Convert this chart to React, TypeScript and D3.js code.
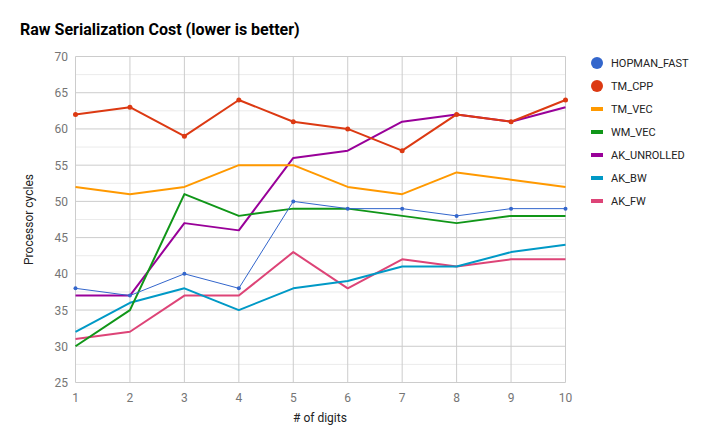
import React from "react";
import * as d3 from "d3";

const digits = [1, 2, 3, 4, 5, 6, 7, 8, 9, 10];
const yTicks = [25, 30, 35, 40, 45, 50, 55, 60, 65, 70];
const seriesNames = ["HOPMAN_FAST", "TM_CPP", "TM_VEC", "WM_VEC", "AK_UNROLLED", "AK_BW", "AK_FW"];
const colors = ["#3366cc", "#dc3912", "#ff9900", "#109618", "#990099", "#0099c6", "#dd4477"];
const hopmanFast = [38, 37, 40, 38, 50, 49, 49, 48, 49, 49];
const tmCpp = [62, 63, 59, 64, 61, 60, 57, 62, 61, 64];
const tmVec = [52, 51, 52, 55, 55, 52, 51, 54, 53, 52];
const wmVec = [30, 35, 51, 48, 49, 49, 48, 47, 48, 48];
const akUnrolled = [37, 37, 47, 46, 56, 57, 61, 62, 61, 63];
const akBw = [32, 36, 38, 35, 38, 39, 41, 41, 43, 44];
const akFw = [31, 32, 37, 37, 43, 38, 42, 41, 42, 42];
const seriesValues = [hopmanFast, tmCpp, tmVec, wmVec, akUnrolled, akBw, akFw];
const withPoints = [true, true, false, false, false, false, false];
const lineWidths = [1, 2, 2, 2, 2, 2, 2];

const W = 709, H = 438;
const FONT = "Roboto, Arial, sans-serif";

export default function App() {
  const x = d3.scaleLinear().domain([1, 10]).range([75.5, 565.5]);
  const y = d3.scaleLinear().domain([25, 70]).range([382.5, 56.5]);
  const minor = d3.range(27.5, 70, 5);
  const line = d3.line<number>().x((_, i) => x(digits[i])).y((d) => y(d));
  const order = [6, 5, 4, 3, 2, 1, 0];
  return (
    <svg width={W} height={H} style={{ position: "absolute", left: 0, top: 0, fontFamily: FONT }}>
      <rect width={W} height={H} fill="#fff" />
      <text x={20} y={35} fontSize={16} fontWeight="bold" fill="#000">Raw Serialization Cost (lower is better)</text>
      {minor.map((v) => (
        <line key={"m" + v} x1={x(1)} x2={x(10)} y1={y(v)} y2={y(v)} stroke="#ebebeb" strokeWidth={1} />
      ))}
      {yTicks.map((v) => (
        <line key={"g" + v} x1={x(1)} x2={x(10)} y1={y(v)} y2={y(v)} stroke="#cccccc" strokeWidth={1} />
      ))}
      {digits.map((d) => (
        <line key={"v" + d} x1={x(d)} x2={x(d)} y1={y(70)} y2={y(25)} stroke="#cccccc" strokeWidth={1} />
      ))}
      {yTicks.map((v) => (
        <text key={"yt" + v} x={68} y={y(v) + 4.5} fontSize={12} fill="#757575" textAnchor="end">{v}</text>
      ))}
      {digits.map((d) => (
        <text key={"xt" + d} x={x(d)} y={402} fontSize={12} fill="#757575" textAnchor="middle">{d}</text>
      ))}
      <text x={320} y={422} fontSize={12} fill="#222" textAnchor="middle"># of digits</text>
      <text transform={`translate(33,${y(47.5)}) rotate(-90)`} fontSize={12} fill="#222" textAnchor="middle">Processor cycles</text>
      {order.map((si) => (
        <g key={"s" + si}>
          <path d={line(seriesValues[si]) || ""} fill="none" stroke={colors[si]} strokeWidth={lineWidths[si]} strokeLinejoin="round" />
          {withPoints[si] && seriesValues[si].map((v, i) => (
            <circle key={i} cx={x(digits[i])} cy={y(v)} r={si === 0 ? 2 : 2.5} fill={colors[si]} />
          ))}
        </g>
      ))}
      {seriesNames.map((n, i) => {
        const ly = 63 + i * 23;
        return (
          <g key={"l" + n}>
            {withPoints[i] ? (
              <circle cx={597} cy={ly} r={6} fill={colors[i]} />
            ) : (
              <rect x={591} y={ly - 2} width={12} height={4} fill={colors[i]} />
            )}
            <text x={611} y={ly + 4} fontSize={11} fill="#222">{n}</text>
          </g>
        );
      })}
    </svg>
  );
}
